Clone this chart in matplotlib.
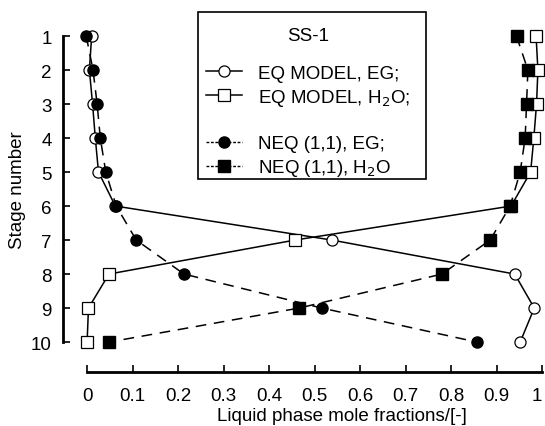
import matplotlib.pyplot as plt
from matplotlib.lines import Line2D
from matplotlib.patches import Rectangle

plt.rcParams['font.family'] = ['Liberation Sans', 'DejaVu Sans']

# stage numbers (1 = top)
stages = [1, 2, 3, 4, 5, 6, 7, 8, 9, 10]

# liquid phase mole fractions
eq_eg = [0.010, 0.005, 0.012, 0.018, 0.025, 0.062, 0.538, 0.940, 0.983, 0.952]
eq_h2o = [0.987, 0.991, 0.988, 0.982, 0.975, 0.932, 0.457, 0.048, 0.003, 0.000]
neq_eg = [-0.002, 0.013, 0.022, 0.029, 0.041, 0.064, 0.108, 0.213, 0.516, 0.857]
neq_h2o = [0.944, 0.969, 0.966, 0.963, 0.952, 0.930, 0.886, 0.780, 0.466, 0.048]

xticks = [0, 0.1, 0.2, 0.3, 0.4, 0.5, 0.6, 0.7, 0.8, 0.9, 1]
xticklabels = ['0', '0.1', '0.2', '0.3', '0.4', '0.5', '0.6', '0.7', '0.8', '0.9', '1']

FS = 13.5
W, H = 545, 427
fig = plt.figure(figsize=(W / 100, H / 100), dpi=100)
ax = fig.add_axes([63 / W, 54 / H, (542 - 63) / W, (373 - 26.8) / H])

# equilibrium model: solid lines, open markers
ax.plot(eq_eg, stages, '-', color='black', lw=1.1, marker='o', ms=8,
        mfc='white', mec='black', mew=0.9, clip_on=False, zorder=2)
ax.plot(eq_h2o, stages, '-', color='black', lw=1.1, marker='s', ms=8.5,
        mfc='white', mec='black', mew=0.9, clip_on=False, zorder=2)

# non-equilibrium model: dashed lines, filled markers
ax.plot(neq_eg, stages, color='black', lw=1.1, dashes=(7, 5), marker='o', ms=8,
        mfc='black', mec='black', clip_on=False, zorder=3)
ax.plot(neq_h2o, stages, color='black', lw=1.1, dashes=(7, 5), marker='s', ms=8.5,
        mfc='black', mec='black', clip_on=False, zorder=3)

ax.set_xlim(-0.053, 1.0)
ax.set_ylim(10.88, 0.7)
ax.set_xticks(xticks)
ax.set_xticklabels(xticklabels)
ax.get_xticklabels()[-1].set_horizontalalignment('right')
ax.set_yticks(stages)

for s in ['top', 'right']:
    ax.spines[s].set_visible(False)
ax.spines['left'].set_bounds(1, 10)
ax.spines['bottom'].set_bounds(0, 1)
ax.spines['left'].set_linewidth(2)
ax.spines['bottom'].set_linewidth(2)
ax.tick_params(direction='in', length=5, width=1.2, labelsize=FS, colors='black')
ax.tick_params(axis='x', pad=11)
ax.tick_params(axis='y', pad=8)

ax.set_xlabel('Liquid phase mole fractions/[-]', fontsize=FS)
ax.set_ylabel('Stage number', fontsize=FS)
ax.xaxis.set_label_coords((342 - 63) / 479, (373 - 408) / 346.2)
ax.yaxis.set_label_coords((26 - 63) / 479, (373 - 190) / 346.2)

handles = [
    Line2D([], [], color='black', lw=1.1, marker='o', ms=8, mfc='white', mec='black', mew=0.9),
    Line2D([], [], color='black', lw=1.1, marker='s', ms=8.5, mfc='white', mec='black', mew=0.9),
    Line2D([], [], color='none'),
    Line2D([], [], color='black', lw=1.0, ls=(0, (2, 1.2)), marker='o', ms=8, mfc='black', mec='black'),
    Line2D([], [], color='black', lw=1.0, ls=(0, (2, 1.2)), marker='s', ms=8.5, mfc='black', mec='black'),
]
labels = ['EQ MODEL, EG;', 'EQ MODEL, H$_2$O;', '', 'NEQ (1,1), EG;', 'NEQ (1,1), H$_2$O']
leg = ax.legend(handles, labels, title='SS-1', loc='upper left',
                bbox_to_anchor=(206 / W, 1 - 28 / H), bbox_transform=fig.transFigure,
                fontsize=FS, title_fontsize=FS, frameon=False, borderpad=0,
                labelspacing=0.27, handlelength=1.9, handletextpad=0.85, borderaxespad=0)
leg._legend_box.sep = 15

# legend box drawn separately so the padding can match
fig.patches.append(Rectangle((198 / W, 1 - 180 / H), 228 / W, 167 / H,
                             transform=fig.transFigure, fill=False,
                             edgecolor='black', lw=1.2, zorder=4))

fig.savefig('out.png', dpi=100)
